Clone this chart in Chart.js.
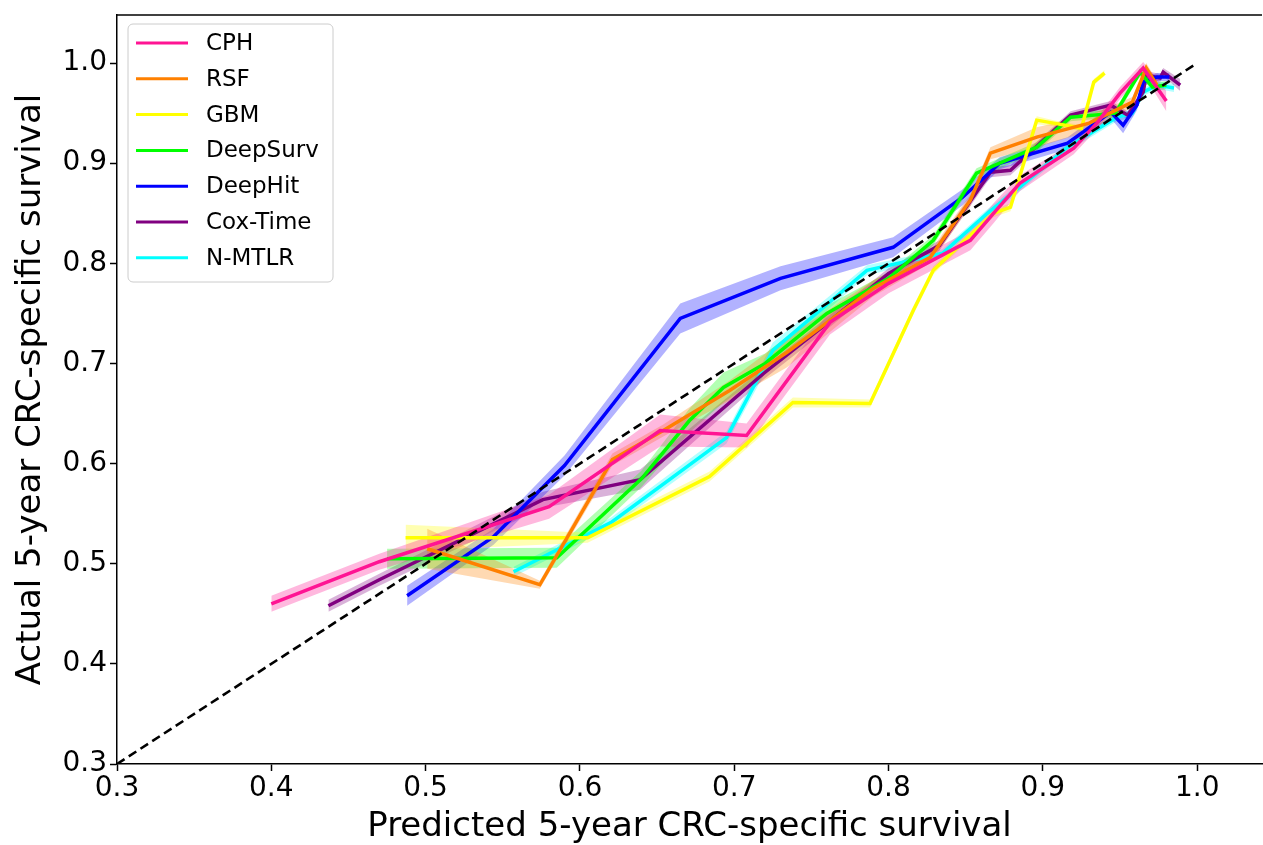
<!DOCTYPE html>
<html>
<head>
<meta charset="utf-8">
<script src="https://cdn.jsdelivr.net/npm/chart.js@4.4.0/dist/chart.umd.min.js"></script>
<style>
  html, body { margin: 0; padding: 0; background: #fff; }
  #wrap { width: 1263px; height: 845px; }
</style>
</head>
<body>
<div id="wrap"><canvas id="calib"></canvas></div>
<script>
// =====================
// Data
// =====================
const models = ["CPH", "RSF", "GBM", "DeepSurv", "DeepHit", "Cox-Time", "N-MTLR"];
const colors = ["#ff1493", "#ff8000", "#ffff00", "#00ff00", "#0000ff", "#800080", "#00ffff"];

const xCPH = [0.40, 0.47, 0.58, 0.652, 0.708, 0.762, 0.80, 0.853, 0.868, 0.885, 0.92, 0.935, 0.95, 0.965, 0.98];
const yCPH = [0.460, 0.502, 0.557, 0.633, 0.628, 0.741, 0.78, 0.823, 0.85, 0.88, 0.915, 0.94, 0.97, 0.995, 0.962];
const wCPH = [0.008, 0.008, 0.012, 0.016, 0.012, 0.012, 0.01, 0.01, 0.01, 0.008, 0.006, 0.006, 0.006, 0.006, 0.01];

const xRSF = [0.501, 0.574, 0.621, 0.654, 0.697, 0.734, 0.79, 0.827, 0.853, 0.866, 0.896, 0.93, 0.958, 0.967, 0.974];
const yRSF = [0.515, 0.479, 0.604, 0.633, 0.673, 0.711, 0.775, 0.806, 0.863, 0.91, 0.926, 0.94, 0.961, 0.995, 0.978];
const wRSF = [0.02, 0.004, 0.006, 0.006, 0.01, 0.015, 0.008, 0.006, 0.006, 0.006, 0.01, 0.008, 0.005, 0.005, 0.004];

const xGBM = [0.487, 0.605, 0.684, 0.738, 0.788, 0.816, 0.829, 0.868, 0.879, 0.896, 0.907, 0.925, 0.933, 0.94];
const yGBM = [0.526, 0.526, 0.587, 0.661, 0.66, 0.753, 0.793, 0.85, 0.856, 0.943, 0.94, 0.935, 0.981, 0.99];
const wGBM = [0.013, 0.005, 0.005, 0.005, 0.004, 0.004, 0.004, 0.004, 0.004, 0.004, 0.003, 0.003, 0.003, 0.003];

const xDeepSurv = [0.475, 0.585, 0.64, 0.671, 0.693, 0.72, 0.76, 0.80, 0.829, 0.857, 0.896, 0.918, 0.947, 0.963, 0.971, 0.98];
const yDeepSurv = [0.505, 0.506, 0.585, 0.643, 0.676, 0.70, 0.75, 0.785, 0.823, 0.89, 0.916, 0.946, 0.95, 0.991, 0.976, 0.978];
const wDeepSurv = [0.01, 0.01, 0.008, 0.012, 0.015, 0.01, 0.008, 0.006, 0.005, 0.005, 0.005, 0.004, 0.004, 0.004, 0.004, 0.004];

const xDeepHit = [0.488, 0.544, 0.59, 0.665, 0.73, 0.803, 0.848, 0.872, 0.916, 0.944, 0.952, 0.961, 0.965, 0.974, 0.982];
const yDeepHit = [0.468, 0.527, 0.598, 0.745, 0.785, 0.816, 0.866, 0.9, 0.92, 0.951, 0.938, 0.958, 0.981, 0.986, 0.986];
const wDeepHit = [0.01, 0.008, 0.01, 0.015, 0.012, 0.01, 0.008, 0.006, 0.006, 0.006, 0.008, 0.005, 0.004, 0.004, 0.004];

const xCoxTime = [0.437, 0.47, 0.576, 0.639, 0.719, 0.76, 0.80, 0.833, 0.866, 0.879, 0.918, 0.944, 0.955, 0.965, 0.967, 0.976, 0.978, 0.989];
const yCoxTime = [0.458, 0.484, 0.564, 0.584, 0.69, 0.74, 0.79, 0.818, 0.891, 0.893, 0.948, 0.958, 0.948, 0.971, 0.988, 0.985, 0.991, 0.978];
const wCoxTime = [0.006, 0.006, 0.008, 0.01, 0.006, 0.006, 0.005, 0.005, 0.005, 0.005, 0.004, 0.004, 0.004, 0.004, 0.004, 0.004, 0.004, 0.006];

const xNMTLR = [0.557, 0.62, 0.695, 0.725, 0.786, 0.835, 0.864, 0.885, 0.916, 0.948, 0.958, 0.965, 0.974, 0.985];
const yNMTLR = [0.492, 0.541, 0.626, 0.713, 0.793, 0.81, 0.85, 0.876, 0.916, 0.946, 0.95, 0.971, 0.978, 0.975];
const wNMTLR = [0.005, 0.005, 0.006, 0.008, 0.005, 0.004, 0.004, 0.004, 0.004, 0.004, 0.004, 0.004, 0.004, 0.004];

const diagX = [0.3, 1.0];
const xTicks = [0.3, 0.4, 0.5, 0.6, 0.7, 0.8, 0.9, 1.0];
const yTicks = [0.3, 0.4, 0.5, 0.6, 0.7, 0.8, 0.9, 1.0];

const series = [
  [xCPH, yCPH, wCPH],
  [xRSF, yRSF, wRSF],
  [xGBM, yGBM, wGBM],
  [xDeepSurv, yDeepSurv, wDeepSurv],
  [xDeepHit, yDeepHit, wDeepHit],
  [xCoxTime, yCoxTime, wCoxTime],
  [xNMTLR, yNMTLR, wNMTLR],
];

function hexAlpha(hex, a) {
  const n = parseInt(hex.slice(1), 16);
  return `rgba(${(n >> 16) & 255}, ${(n >> 8) & 255}, ${n & 255}, ${a})`;
}

// =====================
// Datasets: band (upper + lower) then line, per model
// =====================
const datasets = [];
series.forEach(([xs, ys, ws], i) => {
  const upper = xs.map((x, k) => ({ x, y: ys[k] + ws[k] }));
  const lower = xs.map((x, k) => ({ x, y: ys[k] - ws[k] }));
  datasets.push({ data: upper, borderWidth: 0, pointRadius: 0, fill: false, order: 2, borderColor: "transparent" });
  datasets.push({ data: lower, borderWidth: 0, pointRadius: 0, fill: "-1", order: 2,
    borderColor: "transparent", backgroundColor: hexAlpha(colors[i], 0.3) });
});
series.forEach(([xs, ys], i) => {
  datasets.push({
    label: models[i],
    data: xs.map((x, k) => ({ x, y: ys[k] })),
    borderColor: colors[i],
    borderWidth: 3.5,
    pointRadius: 0,
    fill: false,
    order: 1,
  });
});
datasets.push({
  label: "diag",
  data: diagX.map((v) => ({ x: v, y: v })),
  borderColor: "#000",
  borderWidth: 2.6,
  borderDash: [9, 5],
  pointRadius: 0,
  fill: false,
  order: 0,
});

// =====================
// Plugins: top spine + legend box
// =====================
const framePlugin = {
  id: "frame",
  afterDraw(chart) {
    const { ctx, chartArea: a } = chart;
    ctx.save();
    ctx.strokeStyle = "#000";
    ctx.lineWidth = 1.5;
    ctx.beginPath();
    ctx.moveTo(a.left, a.top);
    ctx.lineTo(a.right, a.top);
    ctx.stroke();
    ctx.restore();
  },
};

const legendPlugin = {
  id: "boxLegend",
  afterDraw(chart) {
    const { ctx } = chart;
    const x0 = 128, y0 = 24, w = 205, h = 258;
    ctx.save();
    ctx.beginPath();
    ctx.roundRect(x0, y0, w, h, 5);
    ctx.fillStyle = "rgba(255,255,255,0.8)";
    ctx.fill();
    ctx.strokeStyle = "#cccccc";
    ctx.lineWidth = 1;
    ctx.stroke();
    ctx.font = "23px 'DejaVu Sans'";
    ctx.textBaseline = "middle";
    models.forEach((m, i) => {
      const yy = 43 + i * 35.8;
      ctx.strokeStyle = colors[i];
      ctx.lineWidth = 3;
      ctx.beginPath();
      ctx.moveTo(136, yy);
      ctx.lineTo(188, yy);
      ctx.stroke();
      ctx.fillStyle = "#000";
      ctx.fillText(m, 206, yy + 1);
    });
    ctx.restore();
  },
};

// =====================
// Chart
// =====================
const tickFont = { family: "'DejaVu Sans'", size: 28 };
const titleFont = { family: "'DejaVu Sans'", size: 34 };

new Chart(document.getElementById("calib"), {
  type: "line",
  data: { datasets },
  options: {
    responsive: true,
    maintainAspectRatio: false,
    animation: false,
    layout: { padding: { top: 15, right: 1, left: 0, bottom: 0 } },
    plugins: { legend: { display: false }, tooltip: { enabled: false } },
    scales: {
      x: {
        type: "linear",
        min: 0.3,
        max: 1.042,
        afterFit: (s) => { s.height = 81; s.paddingLeft = 0; s.paddingRight = 0; },
        afterBuildTicks: (s) => { s.ticks = xTicks.map((v) => ({ value: v })); },
        grid: { drawOnChartArea: false, drawTicks: true, tickLength: 7, color: "#000", tickWidth: 1.5 },
        border: { display: true, color: "#000", width: 1.5 },
        ticks: { color: "#000", font: tickFont, padding: 1, maxRotation: 0, callback: (v) => Number(v).toFixed(1) },
        title: { display: true, text: "Predicted 5-year CRC-specific survival", color: "#000", font: titleFont, padding: { top: 0, bottom: -3 } },
      },
      y: {
        type: "linear",
        min: 0.3,
        max: 1.048,
        afterFit: (s) => { s.width = 117; s.paddingTop = 0; s.paddingBottom = 0; },
        afterBuildTicks: (s) => { s.ticks = yTicks.map((v) => ({ value: v })); },
        grid: { drawOnChartArea: false, drawTicks: true, tickLength: 7, color: "#000", tickWidth: 1.5 },
        border: { display: true, color: "#000", width: 1.5 },
        ticks: { color: "#000", font: tickFont, padding: 3, callback: (v) => Number(v).toFixed(1) },
        title: { display: true, text: "Actual 5-year CRC-specific survival", color: "#000", font: titleFont, padding: { top: 11, bottom: 0 } },
      },
    },
  },
  plugins: [framePlugin, legendPlugin],
});
</script>
</body>
</html>
